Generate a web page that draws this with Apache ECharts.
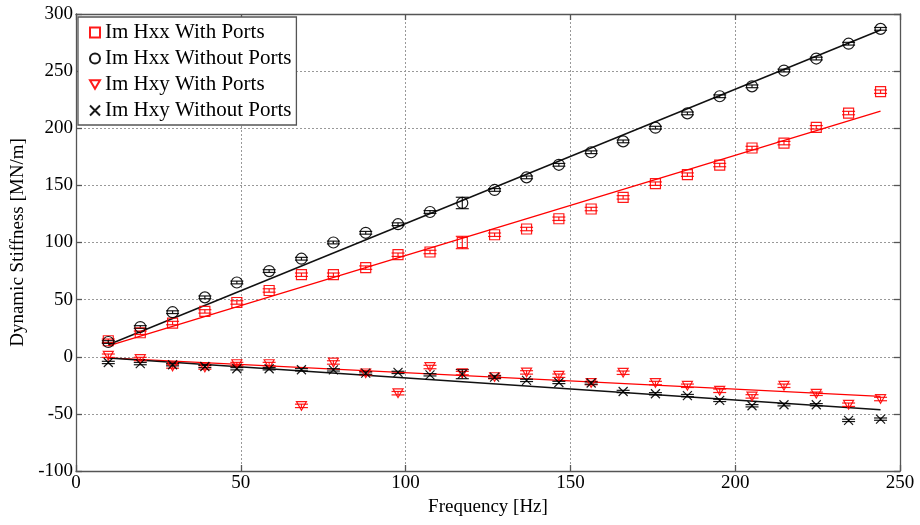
<!DOCTYPE html>
<html>
<head>
<meta charset="utf-8">
<script src="https://cdn.jsdelivr.net/npm/echarts@6/dist/echarts.min.js"></script>
<style>html,body{margin:0;padding:0;background:#fff;}#c{width:920px;height:525px;}</style>
</head>
<body>
<div id="c"></div>
<script>
const freq = [9.8,19.5,29.3,39.1,48.8,58.6,68.4,78.1,87.9,97.7,107.4,117.2,127.0,136.7,146.5,156.3,166.0,175.8,185.5,195.3,205.1,214.8,224.6,234.4,244.1];
const hxxWith = [14,21,29.5,39.7,47.5,58,71.8,71.8,78,89.3,91.7,100,106.8,111.8,120.8,129.3,139.5,151.5,159.4,167.8,182.7,187,200.8,213.3,232];
const hxxWithout = [12.9,26,39,52,65,75,85.8,100,108.5,116,126.7,134.6,146,157,168,179,188.5,200.5,213,228,236.7,250.5,261,274,287];
const hxyWith = [0.9,-2,-8.5,-9.4,-6.4,-6.4,-43,-5,-14.5,-31.9,-9,-14.3,-17.8,-13.7,-16.6,-23,-14,-23,-25.4,-29.8,-34.7,-25.4,-32.4,-42,-37];
const hxyWithout = [-5,-6,-7,-8.5,-10.5,-10.5,-11.4,-11.5,-14.3,-13.7,-15.8,-15.2,-17.8,-20.7,-22.5,-23,-30.4,-32.4,-34,-38.2,-42.9,-42,-42,-55.7,-54.6];
const errHxxWith = [1.5,1.5,1.5,1.5,1.5,1.5,1.5,1.5,1.5,1.5,1.5,5.4,1.5,1.5,1.5,1.5,1.5,1.5,1.5,1.5,1.5,1.5,1.5,1.5,1.5];
const errHxxWithout = [1.2,1.2,1.2,1.2,1.2,1.2,1.2,1.2,1.2,1.2,1.2,5,1.2,1.2,1.2,1.2,1.2,1.2,1.2,1.2,1.2,1.2,1.2,1.2,1.2];
const errHxyWith = [1.5,1.5,1.5,1.5,1.5,1.5,1.5,1.5,1.5,1.5,1.5,1.5,1.5,1.5,1.5,1.5,1.5,1.5,1.5,1.5,1.5,1.5,1.5,1.5,1.5];
const errHxyWithout = [1,1,1,1,1,1,1,1,1,1,1,4,1,1,1,1,1,1,1,1,1,1,1,1,1];
const fitFreq = [9.8, 244.1];
const fitHxxWith = [9.5, 215];
const fitHxxWithout = [10.5, 286];
const fitHxyWith = [-1, -34.7];
const fitHxyWithout = [-1.2, -46.4];
const xTicks = [0, 50, 100, 150, 200, 250];
const yTicks = [-100, -50, 0, 50, 100, 150, 200, 250, 300];
const names = ['Im Hxx With Ports', 'Im Hxx Without Ports', 'Im Hxy With Ports', 'Im Hxy Without Ports'];

const RED = '#ff0000', BLACK = '#000000';
const FONT = 'Liberation Serif';
const SYM = {
  rect: 'path://M0,0L10,0L10,10L0,10Z',
  circle: 'path://M10,5A5,5,0,1,1,0,5A5,5,0,1,1,10,5Z',
  tri: 'path://M0,0L10,0L5,8.66Z',
  cross: 'path://M0,0L10,10M10,0L0,10'
};

const chart = echarts.init(document.getElementById('c'), null, {renderer: 'canvas'});

function pairs(xs, ys) { return xs.map((x, i) => [x, ys[i]]); }
function triples(xs, ys, es) { return xs.map((x, i) => [x, ys[i], es[i]]); }

function errSeries(vals, errs, color) {
  return {
    type: 'custom', silent: true, z: 3, clip: true,
    data: triples(freq, vals, errs),
    renderItem: function (params, api) {
      const x = api.value(0), y = api.value(1), e = api.value(2);
      const t = api.coord([x, y + e]), b = api.coord([x, y - e]);
      const hw = 6.5;
      const st = {stroke: color, lineWidth: 1.2, opacity: 0.9};
      return {type: 'group', children: [
        {type: 'line', shape: {x1: t[0], y1: t[1], x2: b[0], y2: b[1]}, style: st},
        {type: 'line', shape: {x1: t[0] - hw, y1: t[1], x2: t[0] + hw, y2: t[1]}, style: st},
        {type: 'line', shape: {x1: b[0] - hw, y1: b[1], x2: b[0] + hw, y2: b[1]}, style: st}
      ]};
    }
  };
}
function scatter(name, vals, color, symbol, size) {
  return {
    name: name, type: 'scatter', z: 4, data: pairs(freq, vals),
    symbol: symbol, symbolSize: size, symbolKeepAspect: true,
    itemStyle: {color: 'transparent', borderColor: color, borderWidth: 1.2, opacity: 0.9}
  };
}
function fit(vals, color, w) {
  return {
    type: 'line', z: 2, data: pairs(fitFreq, vals), symbol: 'none', silent: true,
    lineStyle: {color: color, width: w}
  };
}

const frameLine = {show: true, onZero: false, lineStyle: {color: '#555', width: 1.3}};
const frameTick = {show: true, inside: true, length: 6, lineStyle: {color: '#555', width: 1.3}};
const split = {show: true, lineStyle: {color: '#999', type: [2, 2], width: 1}};

chart.setOption({
  animation: false,
  backgroundColor: '#fff',
  grid: {left: 76, right: 20, top: 14, bottom: 54, show: false},
  legend: {
    data: names, orient: 'vertical', left: 78, top: 17,
    padding: [5, 5, 4, 11], itemGap: 5, itemWidth: 10, itemHeight: 10,
    backgroundColor: '#fff', borderColor: '#555', borderWidth: 1.3,
    textStyle: {fontFamily: FONT, fontSize: 21, color: '#000', lineHeight: 21},
    selectedMode: false
  },
  xAxis: [{
    type: 'value', min: 0, max: 250, interval: 50, position: 'bottom',
    axisLine: frameLine, axisTick: frameTick,
    axisLabel: {fontFamily: FONT, fontSize: 19, color: '#000', margin: 3,
      formatter: v => xTicks.includes(v) ? String(v) : ''},
    splitLine: split,
    name: 'Frequency [Hz]', nameLocation: 'middle', nameGap: 26,
    nameTextStyle: {fontFamily: FONT, fontSize: 19, color: '#000'}
  }, {
    type: 'value', min: 0, max: 250, interval: 50, position: 'top',
    axisLine: frameLine, axisTick: frameTick,
    axisLabel: {show: false}, splitLine: {show: false}
  }],
  yAxis: [{
    type: 'value', min: -100, max: 300, interval: 50, position: 'left',
    axisLine: frameLine, axisTick: frameTick,
    axisLabel: {fontFamily: FONT, fontSize: 19, color: '#000', margin: 3,
      formatter: v => yTicks.includes(v) ? String(v) : ''},
    splitLine: split,
    name: 'Dynamic Stiffness [MN/m]', nameLocation: 'middle', nameGap: 47, nameRotate: 90,
    nameTextStyle: {fontFamily: FONT, fontSize: 19, color: '#000'}
  }, {
    type: 'value', min: -100, max: 300, interval: 50, position: 'right',
    axisLine: frameLine, axisTick: frameTick,
    axisLabel: {show: false}, splitLine: {show: false}
  }],
  series: [
    fit(fitHxxWith, RED, 1.3),
    fit(fitHxxWithout, '#111', 1.5),
    fit(fitHxyWith, RED, 1.3),
    fit(fitHxyWithout, '#111', 1.5),
    errSeries(hxxWith, errHxxWith, RED),
    errSeries(hxxWithout, errHxxWithout, BLACK),
    errSeries(hxyWith, errHxyWith, RED),
    errSeries(hxyWithout, errHxyWithout, BLACK),
    scatter(names[0], hxxWith, RED, SYM.rect, 10),
    scatter(names[1], hxxWithout, BLACK, SYM.circle, 11),
    scatter(names[2], hxyWith, RED, SYM.tri, 10),
    scatter(names[3], hxyWithout, BLACK, SYM.cross, 9)
  ]
});
</script>
</body>
</html>
